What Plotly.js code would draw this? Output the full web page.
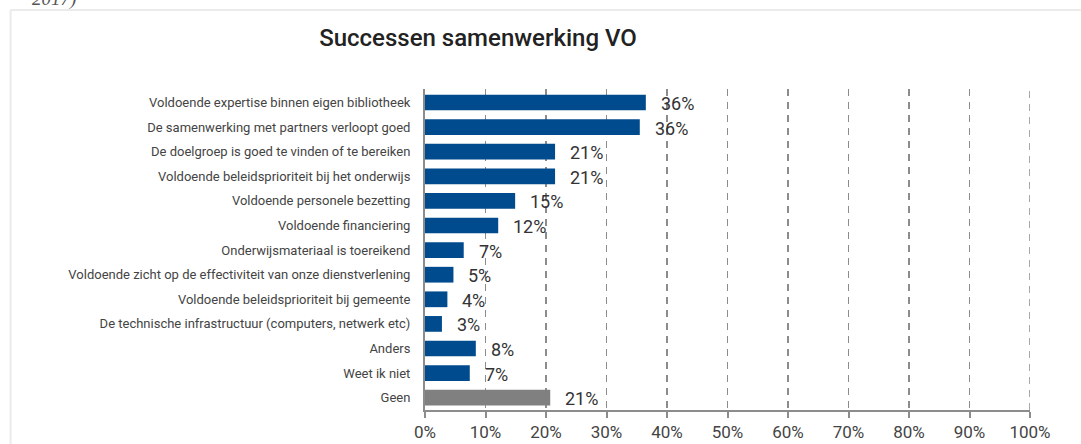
<!DOCTYPE html>
<html>
<head>
<meta charset="utf-8">
<script src="https://cdn.plot.ly/plotly-3.0.1.min.js"></script>
<style>
  html, body { margin: 0; padding: 0; background: #ffffff; }
  #chart { width: 1081px; height: 444px; }
</style>
</head>
<body>
<div id="chart"></div>
<script>
const categories = [
  "Voldoende expertise binnen eigen bibliotheek",
  "De samenwerking met partners verloopt goed",
  "De doelgroep is goed te vinden of te bereiken",
  "Voldoende beleidsprioriteit bij het onderwijs",
  "Voldoende personele bezetting",
  "Voldoende financiering",
  "Onderwijsmateriaal is toereikend",
  "Voldoende zicht op de effectiviteit van onze dienstverlening",
  "Voldoende beleidsprioriteit bij gemeente",
  "De technische infrastructuur (computers, netwerk etc)",
  "Anders",
  "Weet ik niet",
  "Geen"
];
const values = [36.5, 35.5, 21.5, 21.5, 14.9, 12.1, 6.4, 4.7, 3.7, 2.8, 8.4, 7.4, 20.7];
const valueLabels = ["36%", "36%", "21%", "21%", "15%", "12%", "7%", "5%", "4%", "3%", "8%", "7%", "21%"];
const barColors = ["#004B8D", "#004B8D", "#004B8D", "#004B8D", "#004B8D", "#004B8D", "#004B8D",
                   "#004B8D", "#004B8D", "#004B8D", "#004B8D", "#004B8D", "#808080"];
const xTicks = [0, 10, 20, 30, 40, 50, 60, 70, 80, 90, 100];
const xTickText = ["0%", "10%", "20%", "30%", "40%", "50%", "60%", "70%", "80%", "90%", "100%"];
const xMax = 100;
const chartTitle = "Successen samenwerking VO";
const pageNote = "2017)";

const trace = {
  type: "bar",
  orientation: "h",
  x: values,
  y: categories,
  width: 0.64,
  marker: { color: barColors, line: { width: 0 } },
  hoverinfo: "none"
};

const labelAnnotations = values.map((v, i) => ({
  x: v, y: categories[i], xref: "x", yref: "y",
  text: valueLabels[i], showarrow: false,
  xanchor: "left", yanchor: "middle",
  xshift: 13, yshift: -1,
  font: { family: "Roboto, sans-serif", size: 18, color: "#333333" }
}));

labelAnnotations.push({
  x: -0.653, y: 1.28, xref: "paper", yref: "paper",
  text: "<i>" + pageNote + "</i>", showarrow: false,
  xanchor: "left", yanchor: "middle",
  font: { family: "Liberation Serif, serif", size: 19, color: "#555555" }
});

const layout = {
  width: 1081, height: 444,
  margin: { l: 425, r: 51, t: 89, b: 34 },
  paper_bgcolor: "#ffffff",
  plot_bgcolor: "#ffffff",
  showlegend: false,
  bargap: 0.36,
  title: {
    text: chartTitle,
    x: 0.0876, xref: "paper", xanchor: "center",
    y: 1 - 38 / 444, yref: "container", yanchor: "middle",
    font: { family: "Roboto, sans-serif", size: 24, weight: 500, color: "#222222" }
  },
  xaxis: {
    range: [0, xMax],
    tickvals: xTicks,
    ticktext: xTickText,
    showgrid: true,
    gridcolor: "#8c8c8c",
    gridwidth: 1.5,
    griddash: "7px,6px",
    zeroline: false,
    showline: true,
    linecolor: "#8c8c8c",
    linewidth: 2,
    ticks: "outside",
    ticklen: 6,
    tickwidth: 2,
    tickcolor: "#8c8c8c",
    tickfont: { family: "Roboto, sans-serif", size: 17, color: "#444444" },
    fixedrange: true
  },
  yaxis: {
    autorange: "reversed",
    showgrid: false,
    zeroline: false,
    showline: true,
    linecolor: "#8c8c8c",
    linewidth: 2,
    ticks: "",
    ticklabelstandoff: 10,
    tickfont: { family: "Roboto, sans-serif", size: 13, color: "#444444" },
    fixedrange: true
  },
  annotations: labelAnnotations,
  shapes: [
    { type: "line", xref: "x", yref: "paper", x0: xMax, x1: xMax, y0: 0, y1: 1, layer: "below",
      line: { color: "#8c8c8c", width: 1.5, dash: "7px,6px" } },
    { type: "line", xref: "paper", yref: "paper", x0: -0.685, x1: 1.2, y0: 1.246, y1: 1.246,
      line: { color: "#ebebeb", width: 2 } },
    { type: "line", xref: "paper", yref: "paper", x0: -0.685, x1: -0.685, y0: 1.246, y1: -0.3,
      line: { color: "#ebebeb", width: 2 } }
  ]
};

Plotly.newPlot("chart", [trace], layout, { displayModeBar: false, staticPlot: true });
</script>
</body>
</html>
